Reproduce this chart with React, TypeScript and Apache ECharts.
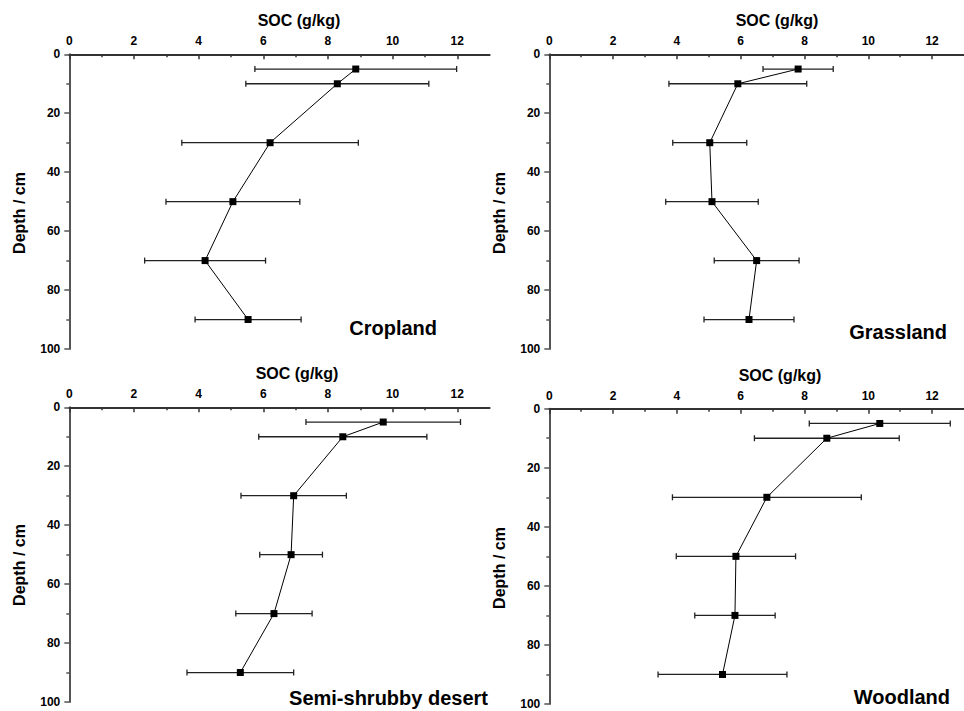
import React, { useEffect, useRef } from "react";
import * as echarts from "echarts";

const depths = [5, 10, 30, 50, 70, 90];

const croplandMean = [8.86, 8.29, 6.21, 5.06, 4.2, 5.53];
const croplandSd = [3.12, 2.83, 2.73, 2.07, 1.87, 1.64];

const grasslandMean = [7.8, 5.91, 5.03, 5.1, 6.5, 6.26];
const grasslandSd = [1.1, 2.16, 1.16, 1.45, 1.33, 1.41];

const desertMean = [9.71, 8.46, 6.94, 6.86, 6.33, 5.29];
const desertSd = [2.39, 2.6, 1.63, 0.97, 1.18, 1.65];

const woodlandMean = [10.36, 8.7, 6.82, 5.85, 5.82, 5.43];
const woodlandSd = [2.21, 2.27, 2.96, 1.87, 1.26, 2.02];

const panelNames = ["Cropland", "Grassland", "Semi-shrubby desert", "Woodland"];
const xTickValues = [0, 2, 4, 6, 8, 10, 12];
const xMinorValues = [1, 3, 5, 7, 9, 11];

const FONT = "'Liberation Sans', Arial, Helvetica, sans-serif";

const panels = [
  { name: panelNames[0], mean: croplandMean, sd: croplandSd },
  { name: panelNames[1], mean: grasslandMean, sd: grasslandSd },
  { name: panelNames[2], mean: desertMean, sd: desertSd },
  { name: panelNames[3], mean: woodlandMean, sd: woodlandSd },
];

// layout
const grids = [
  { left: 69.3, top: 54.3, width: 420.3, height: 294.7 },
  { left: 549.3, top: 54.3, width: 419.6, height: 294.7 },
  { left: 69.3, top: 407.3, width: 420.3, height: 294.7 },
  { left: 549.3, top: 408.7, width: 419.6, height: 295.3 },
];
const titlePos = [
  [299, 20],
  [777, 20],
  [297, 373],
  [780, 375],
];
const depthPos = [
  [19, 213],
  [499, 213],
  [19, 565],
  [499, 568],
];
const labelPos = [
  [437, 328],
  [947, 332],
  [488, 698],
  [950, 697],
];

export default function App() {
  const ref = useRef<HTMLDivElement>(null);
  useEffect(() => {
    if (!ref.current) return;
    const chart = echarts.init(ref.current, undefined, { renderer: "svg" });

    const xAxis: any[] = [];
    const yAxis: any[] = [];
    const series: any[] = [];
    const graphic: any[] = [];

    panels.forEach((p, i) => {
      xAxis.push({
        type: "value",
        gridIndex: i,
        position: "top",
        min: 0,
        max: 13,
        interval: 2,
        axisLine: { show: true, onZero: false, lineStyle: { color: "#333", width: 2 } },
        axisTick: {
          show: true,
          inside: true,
          length: 5,
          customValues: xTickValues,
          lineStyle: { color: "#333", width: 1.5 },
        },
        axisLabel: {
          customValues: xTickValues,
          formatter: (v: number) => (v > 12 ? "" : String(v)),
          fontFamily: FONT,
          fontWeight: "bold",
          fontSize: 12,
          color: "#000",
          margin: 7,
        },
        splitLine: { show: false },
      });
      xAxis.push({
        type: "value",
        gridIndex: i,
        position: "top",
        min: 0,
        max: 13,
        interval: 1,
        axisLine: { show: false, onZero: false },
        axisTick: {
          show: true,
          inside: true,
          length: 3,
          customValues: xMinorValues,
          lineStyle: { color: "#333", width: 1.5 },
        },
        axisLabel: { show: false },
        splitLine: { show: false },
      });
      yAxis.push({
        type: "value",
        gridIndex: i,
        inverse: true,
        min: 0,
        max: 100,
        interval: 20,
        axisLine: { show: true, onZero: false, lineStyle: { color: "#555", width: 2 } },
        axisTick: { show: true, length: 5, lineStyle: { color: "#555", width: 1.5 } },
        minorTick: { show: true, splitNumber: 2, length: 3, lineStyle: { color: "#555", width: 1.5 } },
        axisLabel: {
          fontFamily: FONT,
          fontWeight: "bold",
          fontSize: 12,
          color: "#000",
          margin: 9,
        },
        splitLine: { show: false },
        minorSplitLine: { show: false },
      });

      const errData = depths.map((d, k) => [p.mean[k] - p.sd[k], p.mean[k] + p.sd[k], d]);
      series.push({
        type: "custom",
        xAxisIndex: i * 2,
        yAxisIndex: i,
        data: errData,
        encode: { x: [0, 1], y: 2 },
        z: 2,
        renderItem: (params: any, api: any) => {
          const lo = api.coord([api.value(0), api.value(2)]);
          const hi = api.coord([api.value(1), api.value(2)]);
          const h = 3;
          const style = { stroke: "#222", lineWidth: 1.3 };
          return {
            type: "group",
            children: [
              { type: "line", shape: { x1: lo[0], y1: lo[1], x2: hi[0], y2: hi[1] }, style },
              { type: "line", shape: { x1: lo[0], y1: lo[1] - h, x2: lo[0], y2: lo[1] + h }, style },
              { type: "line", shape: { x1: hi[0], y1: hi[1] - h, x2: hi[0], y2: hi[1] + h }, style },
            ],
          };
        },
      });
      series.push({
        type: "line",
        xAxisIndex: i * 2,
        yAxisIndex: i,
        data: depths.map((d, k) => [p.mean[k], d]),
        symbol: "rect",
        symbolSize: 7,
        showSymbol: true,
        lineStyle: { color: "#000", width: 1 },
        itemStyle: { color: "#000" },
        z: 3,
      });

      graphic.push({
        type: "text",
        x: titlePos[i][0],
        y: titlePos[i][1],
        style: {
          text: "SOC (g/kg)",
          font: `bold 16px ${FONT}`,
          fill: "#000",
          textAlign: "center",
          textVerticalAlign: "middle",
        },
      });
      graphic.push({
        type: "text",
        x: depthPos[i][0],
        y: depthPos[i][1],
        rotation: Math.PI / 2,
        style: {
          text: "Depth / cm",
          font: `bold 16px ${FONT}`,
          fill: "#000",
          textAlign: "center",
          textVerticalAlign: "middle",
        },
      });
      graphic.push({
        type: "text",
        x: labelPos[i][0],
        y: labelPos[i][1],
        style: {
          text: p.name,
          font: `bold 20px ${FONT}`,
          fill: "#000",
          textAlign: "right",
          textVerticalAlign: "middle",
        },
      });
    });

    chart.setOption({
      animation: false,
      backgroundColor: "#fff",
      grid: grids.map((g) => ({ ...g, containLabel: false })),
      xAxis,
      yAxis,
      series,
      graphic,
    });
    return () => chart.dispose();
  }, []);

  return (
    <div
      ref={ref}
      style={{ position: "fixed", left: 0, top: 0, width: 964, height: 711, background: "#fff" }}
    />
  );
}
